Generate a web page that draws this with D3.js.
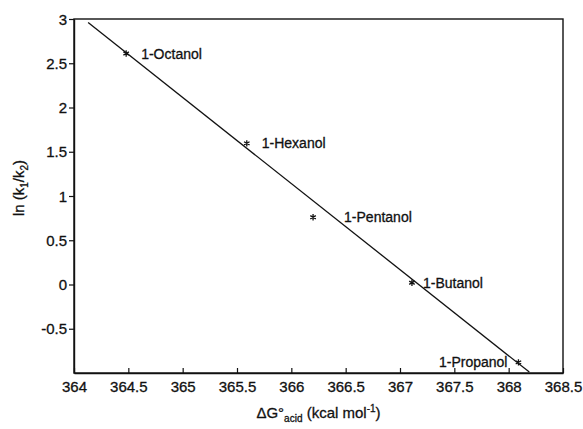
<!DOCTYPE html>
<html>
<head>
<meta charset="utf-8">
<script src="https://cdn.jsdelivr.net/npm/d3@7"></script>
<style>
  html, body { margin: 0; padding: 0; background: #fff; overflow: hidden; }
  svg { display: block; font-family: "Liberation Sans", Arial, sans-serif; }
</style>
</head>
<body>
<div id="chart"></div>
<script>
// alcohols and their values
const alcohols = ['1-Octanol', '1-Hexanol', '1-Pentanol', '1-Butanol', '1-Propanol'];
const dGacid = [364.48, 365.59, 366.20, 367.11, 368.09];
const lnRatio = [2.61, 1.595, 0.76, 0.02, -0.88];
// label offsets (px) relative to marker
const labelDx = [15, 15, 31, 11, -11];

// least-squares line, endpoints as drawn
const fitX = [364.13, 368.19];
const fitY = [2.96, -0.99];

const xTicks = [364, 364.5, 365, 365.5, 366, 366.5, 367, 367.5, 368, 368.5];
const yTicks = [-0.5, 0, 0.5, 1, 1.5, 2, 2.5, 3];

const width = 583, height = 429;
const margin = { top: 19, right: 20, bottom: 56, left: 74 };
const innerWidth = 563 - margin.left;
const innerHeight = 373 - margin.top;

const svg = d3.select('#chart').append('svg')
  .attr('viewBox', `0 0 ${width} ${height}`)
  .attr('preserveAspectRatio', 'xMidYMid meet')
  .style('width', '100vw')
  .style('height', '100vh');

const g = svg.append('g')
  .attr('transform', `translate(${margin.left},${margin.top})`);

const x = d3.scaleLinear().domain([364, 368.5]).range([0, innerWidth]);
const y = d3.scaleLinear().domain([-1, 3]).range([innerHeight, 0]);

const fmt = d => String(d); // plain hyphen minus like the original

// frame
g.append('rect')
  .attr('width', innerWidth)
  .attr('height', innerHeight)
  .attr('fill', 'none')
  .attr('stroke', '#111')
  .attr('stroke-width', 1.4);

// axes
const xAxis = g.append('g')
  .attr('transform', `translate(0,${innerHeight})`)
  .call(d3.axisBottom(x).tickValues(xTicks).tickSize(-5).tickSizeOuter(0).tickFormat(fmt));

const yAxis = g.append('g')
  .call(d3.axisLeft(y).tickValues(yTicks).tickSize(5).tickSizeOuter(0).tickPadding(2).tickFormat(fmt));

xAxis.selectAll('.tick text').attr('y', 19).attr('dy', null);
yAxis.selectAll('.tick text').attr('dy', 5);

[xAxis, yAxis].forEach(a => {
  a.select('.domain').attr('stroke', '#111').attr('stroke-width', 1.4);
  a.selectAll('.tick line').attr('stroke', '#111').attr('stroke-width', 1.2);
  a.selectAll('.tick text')
    .attr('fill', '#111')
    .attr('stroke', '#111')
    .attr('stroke-width', 0.3)
    .style('font-size', '15px')
    .style('font-family', '"Liberation Sans", Arial, sans-serif');
});

// regression line
const pts = fitX.map((v, i) => [v, fitY[i]]);
g.append('path')
  .datum(pts)
  .attr('fill', 'none')
  .attr('stroke', '#111')
  .attr('stroke-width', 1.3)
  .attr('d', d3.line().x(d => x(d[0])).y(d => y(d[1])));

// markers
const data = alcohols.map((name, i) => ({ name, dg: dGacid[i], ln: lnRatio[i], dx: labelDx[i] }));

g.selectAll('.pt')
  .data(data)
  .enter().append('path')
  .attr('class', 'pt')
  .attr('transform', d => `translate(${x(d.dg)},${y(d.ln)})`)
  .attr('d', d3.symbol(d3.symbolAsterisk, 28))
  .attr('fill', 'none')
  .attr('stroke', '#111')
  .attr('stroke-width', 1.3);

g.selectAll('.lbl')
  .data(data)
  .enter().append('text')
  .attr('class', 'lbl')
  .attr('x', d => x(d.dg) + d.dx)
  .attr('y', d => y(d.ln) + 5)
  .attr('text-anchor', d => d.dx < 0 ? 'end' : 'start')
  .attr('fill', '#111')
  .attr('stroke', '#111')
  .attr('stroke-width', 0.3)
  .style('font-size', '14px')
  .text(d => d.name);

// axis titles
const xt = svg.append('text')
  .attr('x', margin.left + innerWidth / 2)
  .attr('y', 418)
  .attr('text-anchor', 'middle')
  .attr('fill', '#111')
  .attr('stroke', '#111')
  .attr('stroke-width', 0.3)
  .style('font-size', '15px');
xt.append('tspan').text('ΔG°');
xt.append('tspan').attr('dy', 4).style('font-size', '10px').text('acid');
xt.append('tspan').attr('dy', -4).text(' (kcal mol');
xt.append('tspan').attr('dy', -6).style('font-size', '10px').text('-1');
xt.append('tspan').attr('dy', 6).text(')');

const yt = svg.append('text')
  .attr('transform', 'translate(24,188) rotate(-90)')
  .attr('text-anchor', 'middle')
  .attr('fill', '#111')
  .attr('stroke', '#111')
  .attr('stroke-width', 0.3)
  .style('font-size', '15px');
yt.append('tspan').text('ln (k');
yt.append('tspan').attr('dy', 4).style('font-size', '10px').text('1');
yt.append('tspan').attr('dy', -4).text('/k');
yt.append('tspan').attr('dy', 4).style('font-size', '10px').text('2');
yt.append('tspan').attr('dy', -4).text(')');
</script>
</body>
</html>
